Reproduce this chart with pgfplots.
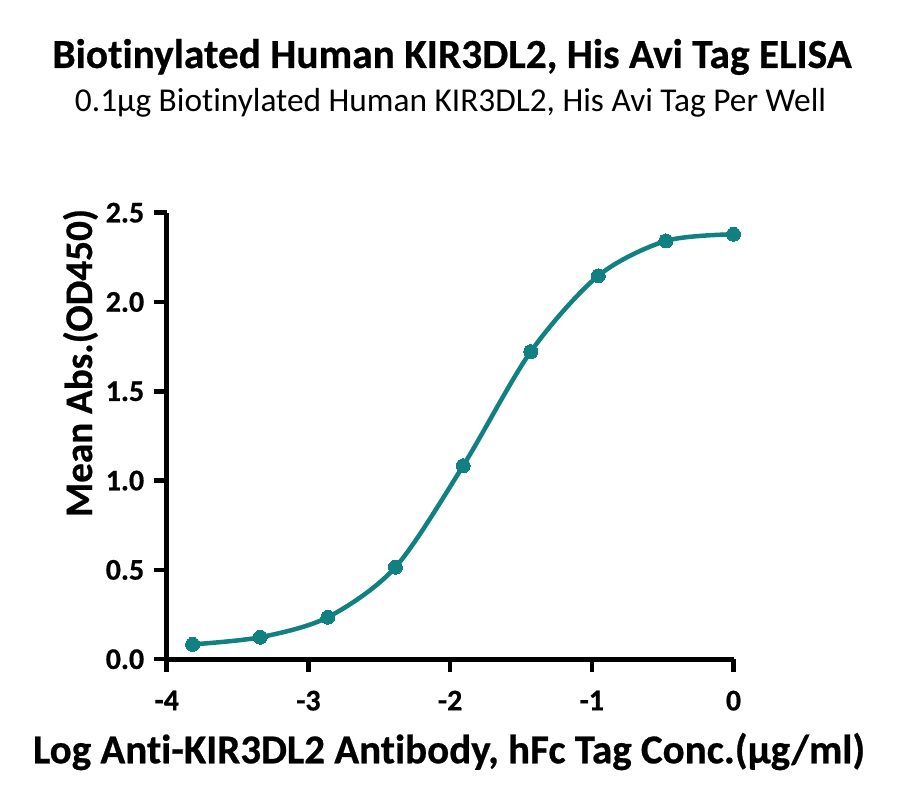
\documentclass[border=0pt]{standalone}
\usepackage{pgfplots}
\pgfplotsset{compat=1.18}
\usepackage{fontspec}
\setmainfont[Ligatures=NoCommon, BoldFeatures={FakeBold=0.6}]{Carlito}
\definecolor{curveteal}{RGB}{16,128,128}
\begin{document}
\begin{tikzpicture}[x=1bp,y=1bp]
  % canvas: 900 x 807, y measured from the bottom
  \path[use as bounding box] (0,0) rectangle (900,807);
  \node[anchor=base] at (452,739)
    {\resizebox{799bp}{!}{\bfseries Biotinylated Human KIR3DL2, His Avi Tag ELISA}};
  \node[anchor=base] at (450.5,695)
    {\resizebox{751bp}{!}{0.1µg Biotinylated Human KIR3DL2, His Avi Tag Per Well}};
  \begin{axis}[
      at={(166.7bp,147.8bp)},
      anchor=south west,
      scale only axis,
      width=566.8bp,
      height=446.5bp,
      xmin=-4, xmax=0,
      ymin=0, ymax=2.5,
      enlargelimits=false,
      clip=false,
      axis x line=bottom,
      axis y line=left,
      axis line style={-, line width=5bp, black},
      tick style={line width=4.5bp, black},
      tick align=outside,
      major tick length=13bp,
      xtick={-4,-3,-2,-1,0},
      xticklabels={-4,-3,-2,-1,0},
      ytick={0,0.5,1,1.5,2,2.5},
      yticklabels={0.0,0.5,1.0,1.5,2.0,2.5},
      ticklabel style={font=\fontsize{30bp}{34bp}\selectfont\bfseries},
      xticklabel style={yshift=-15bp},
      yticklabel style={xshift=-6bp},
      xlabel={},
      ylabel={},
    ]
    \addplot[color=curveteal, line width=4.5bp, smooth, mark=*,
             mark size=7bp, mark options={fill=curveteal, draw=curveteal, line width=0pt}]
      coordinates {
        (-3.817,0.083)
        (-3.340,0.123)
        (-2.863,0.235)
        (-2.386,0.515)
        (-1.908,1.083)
        (-1.431,1.722)
        (-0.954,2.147)
        (-0.477,2.342)
        (0.000,2.379)
      };
  \end{axis}
  \node[anchor=base] at (449,43.7)
    {\resizebox{832bp}{!}{\bfseries Log Anti-KIR3DL2 Antibody, hFc Tag Conc.(µg/ml)}};
  \node[anchor=base, rotate=90] at (92,444)
    {\resizebox{308bp}{!}{\bfseries Mean Abs.(OD450)}};
\end{tikzpicture}
\end{document}
